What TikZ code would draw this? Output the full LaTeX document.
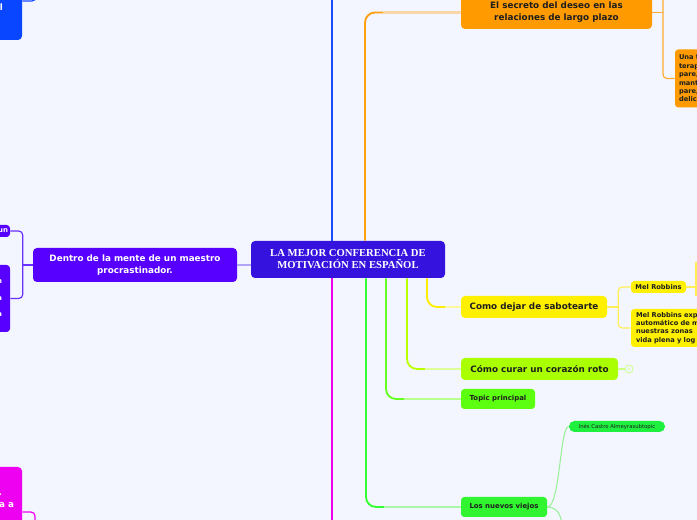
\documentclass[tikz,border=0pt]{standalone}
\usepackage{fontspec}
\setmainfont{DejaVu Sans}
\newfontfamily\cserif{Liberation Serif}
\usetikzlibrary{calc}
\definecolor{bg}{HTML}{F3F6FE}
\definecolor{cmain}{HTML}{3612DF}
\definecolor{cdentro}{HTML}{5800FF}
\definecolor{cblue}{HTML}{0846FF}
\definecolor{cmag}{HTML}{EE00F0}
\definecolor{corange}{HTML}{FF9B00}
\definecolor{cyellow}{HTML}{FFF000}
\definecolor{cyg}{HTML}{AAFF00}
\definecolor{ctopic}{HTML}{5CFF10}
\definecolor{cnuevos}{HTML}{30F530}
\definecolor{cines}{HTML}{1FEF3F}
\definecolor{txt}{HTML}{1E1E1E}
\definecolor{lblue}{HTML}{1A4BFF}
\definecolor{lmag}{HTML}{EE00EE}
\definecolor{lorange}{HTML}{FFA010}
\definecolor{porange}{HTML}{FFD9A0}
\definecolor{lgreen}{HTML}{33FF33}
\definecolor{pgreen}{HTML}{A8F8A8}
\definecolor{ltopic}{HTML}{66FF22}
\definecolor{ptopic}{HTML}{B8FF90}
\definecolor{lyg}{HTML}{BBFF00}
\definecolor{pyg}{HTML}{DDFF99}
\definecolor{lyellow}{HTML}{FFEE00}
\definecolor{pyellow}{HTML}{FFF7A0}
\definecolor{lavender}{HTML}{B3A5F5}
\definecolor{lpurple}{HTML}{6A30FF}
\definecolor{osub}{HTML}{FFAA33}
\definecolor{ysub}{HTML}{FFEE55}
\definecolor{gsub}{HTML}{99F099}
\definecolor{ygsub}{HTML}{CCFF88}
\begin{document}
\begin{tikzpicture}[x=0.75pt,y=-0.75pt,
  box/.style={rounded corners=3pt, inner sep=0pt, align=center, text=txt,
    font=\bfseries\fontsize{6.6}{9}\selectfont},
  smallbox/.style={box, rounded corners=2.5pt, font=\bfseries\fontsize{5.2}{6.2}\selectfont},
  mainline/.style={line width=1.4pt, rounded corners=7.5pt},
  subline/.style={line width=0.9pt, rounded corners=3pt}]
\useasboundingbox (0,0) rectangle (697,520);
\fill[bg] (0,0) rectangle (697,520);

% central and first level nodes
\node[box, fill=cmain, text=white, font=\cserif\bfseries\fontsize{8}{9}\selectfont,
  minimum width=145.5pt, minimum height=27.75pt] (central) at (348,259.5)
  {LA MEJOR CONFERENCIA DE\\MOTIVACIÓN EN ESPAÑOL};
\node[box, fill=cdentro, text=white, minimum width=153pt, minimum height=25.5pt]
  (dentro) at (135,265) {Dentro de la mente de un maestro\\procrastinador.};
\node[box, fill=corange, minimum width=143.25pt, minimum height=24.75pt]
  (secreto) at (556.5,12.5) {El secreto del deseo en las\\relaciones de largo plazo};
\node[box, fill=cyellow, minimum width=109.5pt, minimum height=16.5pt]
  (dejar) at (534,307) {Como dejar de sabotearte};
\node[box, fill=cyg, minimum width=117.75pt, minimum height=16.5pt]
  (curar) at (539.5,369) {Cómo curar un corazón roto};
\node[smallbox, fill=ctopic, minimum width=55.5pt, minimum height=15pt]
  (topic) at (498,399) {Topic principal};
\node[smallbox, fill=cnuevos, minimum width=64.5pt, minimum height=15pt]
  (nuevos) at (504,507) {Los nuevos viejos};

% partially visible nodes at the left edge
\node[box, fill=cblue, text=white, align=right, text width=31.5pt,
  minimum width=31.5pt, minimum height=48.75pt] (tl) at (1,7.5) {\mbox{l\hspace{14.25pt}}};
\node[smallbox, fill=cdentro, text=white, align=right, text width=30pt,
  minimum width=30pt, minimum height=9pt] (lt1) at (-10,231) {\mbox{un\hspace{1.5pt}}};
\node[smallbox, fill=cdentro, text=white, align=right, text width=52.5pt,
  minimum width=52.5pt, minimum height=50.25pt] (lb2) at (-25,298.5)
  {\mbox{n\hspace{6pt}}\\\mbox{}\\\mbox{a\hspace{6pt}}\\\mbox{}\\\mbox{a\hspace{6pt}}};
\node[box, fill=cmag, text=white, align=right, text width=46.5pt,
  minimum width=46.5pt, minimum height=51pt] (magL) at (-9,501)
  {\mbox{.\hspace{15pt}}\\\mbox{ta a\hspace{6pt}}};

% second level nodes at the right
\node[smallbox, fill=corange, align=left, text width=69pt, inner xsep=3pt,
  minimum height=43.5pt, font=\bfseries\fontsize{5}{6.3}\selectfont]
  (una) at (725,78.5) {Una t\\terap\\pare,\\mant\\pare,\\delic};
\node[smallbox, fill=cyellow, minimum width=41.25pt, minimum height=9pt,
  font=\bfseries\fontsize{5}{6.2}\selectfont] (mel1) at (658.5,287) {Mel Robbins};
\node[smallbox, fill=cyellow, align=left, text width=90pt, inner xsep=3.75pt,
  minimum height=28.5pt, font=\bfseries\fontsize{5}{6.2}\selectfont] (mel2) at (696,328)
  {Mel Robbins exp\\automático de m\\nuestras zonas\\vida plena y log};
\node[box, fill=cines, rounded corners=4pt, minimum width=72pt, minimum height=8.25pt,
  font=\fontsize{4}{5}\selectfont] (ines) at (617,426.5) {Inés Castro Almeyrasubtopic};
\node[circle, draw=ygsub, line width=0.6pt, inner sep=0pt, minimum size=6pt,
  text=ygsub, font=\fontsize{3}{3}\selectfont] (curarC) at (629,369) {6};

% free ends
\coordinate (bTop) at (332,-3);
\coordinate (mBot) at (332,523);
\coordinate (secUp) at (663,-5);
\coordinate (m1U) at (696,262);
\coordinate (m1D) at (696,296);
\coordinate (nvDn) at (563,540);
\coordinate (mDn) at (35,530);
\coordinate (blTop) at (36,-12);

% main branches
\draw[mainline, lblue] ([xshift=-12pt]central.north) -- (bTop);
\draw[mainline, lmag] ([xshift=-12pt]central.south) -- (mBot);
\draw[line width=1.1pt, lavender] (dentro.east) -- (dentro.east -| central.west);

\draw[mainline, lorange] ([xshift=12.75pt]central.north) |- (secreto.west);
\draw[line width=1.4pt, porange] ($(secreto.west)+(-78,0)$) -- (secreto.west);

\draw[mainline, lgreen] ([xshift=13.5pt]central.south) |- (nuevos.west);
\draw[line width=1.4pt, pgreen] ($(nuevos.west)+(-77,0)$) -- (nuevos.west);

\draw[mainline, ltopic] ([xshift=28.5pt]central.south) |- (topic.west);
\draw[line width=1.4pt, ptopic] ($(topic.west)+(-57,0)$) -- (topic.west);

\draw[mainline, lyg] ([xshift=44.25pt]central.south) |- (curar.west);
\draw[line width=1.4pt, pyg] ($(curar.west)+(-36,0)$) -- (curar.west);

\draw[mainline, lyellow] ([xshift=59.25pt]central.south) |- (dejar.west);
\draw[line width=1.4pt, pyellow] ($(dejar.west)+(-16,0)$) -- (dejar.west);

% sub branches
\draw[subline, lpurple] (lt1.east) -| ([xshift=-7.5pt]dentro.west) |- (lb2.east);
\draw[subline, lpurple] (dentro.west) -- ([xshift=-7.5pt]dentro.west);

\draw[subline, osub] (secUp) |- (una.west);
\draw[subline, osub] (secreto.east) -- (secreto.east -| secUp);

\draw[subline, ysub] (mel1.west) -| ([xshift=8.25pt]dejar.east) |- (mel2.west);
\draw[subline, ysub] (dejar.east) -- ([xshift=8.25pt]dejar.east);
\draw[subline, ysub] (mel1.east) -- (mel1.east -| m1U);
\draw[subline, ysub] (m1U) -- (m1D);

\draw[line width=0.8pt, ygsub] (curar.east) -- (curarC.west);

\draw[line width=0.8pt, gsub] (nuevos.east) .. controls +(13,0) and +(-9,0) .. (ines.west);
\draw[line width=0.8pt, gsub] (nuevos.east) .. controls +(13,0) and +(0,-20) .. (nvDn);

\draw[subline, lmag] ([yshift=-8.25pt]magL.east) -| (mDn);
\draw[subline, lblue] ([yshift=4.9pt]tl.east) -| (blTop);
\end{tikzpicture}
\end{document}
